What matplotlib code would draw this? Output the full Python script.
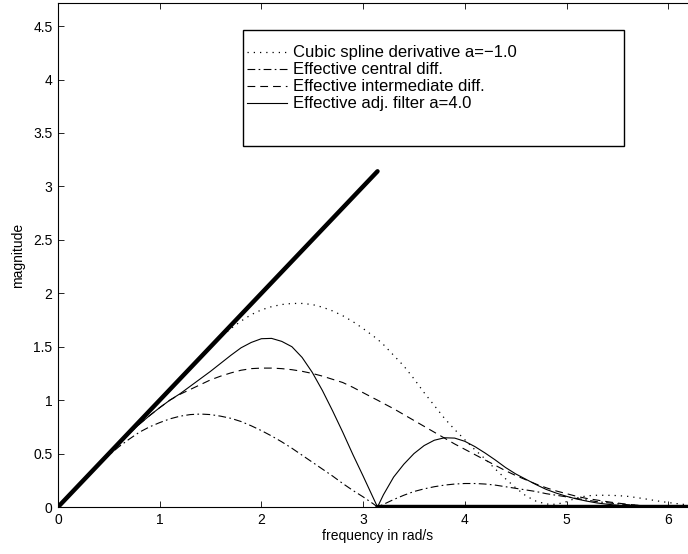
import numpy as np
import matplotlib
matplotlib.use("Agg")
import matplotlib.pyplot as plt
from matplotlib.patches import Rectangle

plt.rcParams["font.family"] = ["Liberation Sans", "DejaVu Sans"]
plt.rcParams["font.size"] = 10

PI = np.pi
# sample frequencies (rad/s)
freq = [0.0, 0.1, 0.2, 0.3, 0.4, 0.5, 0.6, 0.7, 0.8, 0.9,
        1.0, 1.1, 1.2, 1.3, 1.4, 1.5, 1.6, 1.7, 1.8, 1.9,
        2.0, 2.1, 2.2, 2.3, 2.4, 2.5, 2.6, 2.7, 2.8, 2.9,
        3.0, 3.1, PI, 3.2, 3.3, 3.4, 3.5, 3.6, 3.7, 3.8, 3.9,
        4.0, 4.1, 4.2, 4.3, 4.4, 4.5, 4.6, 4.7, 4.8, 4.9,
        5.0, 5.1, 5.2, 5.3, 5.4, 5.5, 5.6, 5.7, 5.8, 5.9,
        6.0, 6.1, 6.2, 2 * PI]

spline_deriv = [0.0, 0.1, 0.2, 0.3, 0.4, 0.5, 0.6, 0.7, 0.8, 0.9,
                1.0, 1.1, 1.2, 1.3, 1.4, 1.5, 1.59, 1.67, 1.74, 1.80,
                1.845, 1.875, 1.895, 1.905, 1.905, 1.895, 1.87, 1.835, 1.79, 1.735,
                1.67, 1.60, 1.57, 1.52, 1.42, 1.32, 1.20, 1.07, 0.95, 0.83, 0.725,
                0.63, 0.535, 0.45, 0.355, 0.265, 0.18, 0.105, 0.055, 0.028, 0.025,
                0.05, 0.085, 0.105, 0.11, 0.11, 0.107, 0.10, 0.087, 0.072, 0.056,
                0.042, 0.03, 0.02, 0.015]
central_diff = [0.0, 0.1, 0.2, 0.3, 0.395, 0.485, 0.565, 0.635, 0.70, 0.75,
                0.79, 0.825, 0.85, 0.865, 0.87, 0.865, 0.85, 0.83, 0.80, 0.76,
                0.715, 0.665, 0.61, 0.55, 0.485, 0.42, 0.355, 0.29, 0.22, 0.155,
                0.095, 0.03, 0.0, 0.025, 0.07, 0.11, 0.145, 0.17, 0.19, 0.205, 0.215,
                0.22, 0.22, 0.215, 0.205, 0.19, 0.175, 0.16, 0.145, 0.125, 0.11,
                0.095, 0.08, 0.065, 0.05, 0.04, 0.03, 0.022, 0.015, 0.01, 0.006,
                0.003, 0.001, 0.0, 0.0]
intermediate_diff = [0.0, 0.1, 0.2, 0.3, 0.4, 0.5, 0.595, 0.69, 0.775, 0.855,
                     0.93, 1.0, 1.055, 1.10, 1.145, 1.19, 1.225, 1.255, 1.28, 1.295,
                     1.30, 1.30, 1.295, 1.285, 1.27, 1.25, 1.225, 1.195, 1.165, 1.12,
                     1.07, 1.02, 1.0, 0.97, 0.92, 0.865, 0.81, 0.755, 0.70, 0.645, 0.59,
                     0.54, 0.49, 0.44, 0.39, 0.34, 0.295, 0.255, 0.215, 0.18, 0.15,
                     0.125, 0.10, 0.08, 0.065, 0.05, 0.037, 0.026, 0.017, 0.01, 0.006,
                     0.003, 0.001, 0.0, 0.0]
adj_filter = [0.0, 0.1, 0.2, 0.3, 0.4, 0.5, 0.595, 0.69, 0.775, 0.855,
              0.93, 1.0, 1.06, 1.13, 1.20, 1.27, 1.345, 1.42, 1.49, 1.54,
              1.575, 1.578, 1.55, 1.50, 1.40, 1.26, 1.09, 0.90, 0.70, 0.49,
              0.29, 0.085, 0.0, 0.115, 0.28, 0.40, 0.50, 0.575, 0.625, 0.648, 0.645,
              0.615, 0.565, 0.505, 0.44, 0.37, 0.31, 0.26, 0.21, 0.165, 0.13,
              0.10, 0.075, 0.055, 0.038, 0.026, 0.017, 0.011, 0.007, 0.004, 0.002,
              0.001, 0.0, 0.0, 0.0]

# ideal derivative, band-limited to pi (two pieces, no vertical jump)
ideal_freq = [0.0, PI, np.nan, PI, 2 * PI]
ideal_mag = [0.0, PI, np.nan, 0.0, 0.0]

labels = ["Cubic spline derivative a=\u22121.0", "Effective central diff.",
          "Effective intermediate diff.", "Effective adj. filter a=4.0"]

fig = plt.figure(figsize=(6.88, 5.54), dpi=100)
ax = fig.add_axes([0.0843, 0.0848, 0.9288, 0.909])

h1, = ax.plot(freq, spline_deriv, color="k", lw=0.9, ls=(0, (1, 4)))
h2, = ax.plot(freq, central_diff, color="k", lw=0.8, ls=(0, (7, 3, 1.5, 3)))
h3, = ax.plot(freq, intermediate_diff, color="k", lw=0.8, ls=(0, (7, 4.5)))
h4, = ax.plot(freq, adj_filter, color="k", lw=0.8)
ax.plot(ideal_freq, ideal_mag, color="k", lw=3.2, solid_capstyle="round")

ax.set_xlim(0, 2 * PI)
ax.set_ylim(0, 1.5 * PI)
ax.set_xticks(range(7))
ax.set_yticks(np.arange(0, 4.6, 0.5))
ax.set_yticklabels(["0", "0.5", "1", "1.5", "2", "2.5", "3", "3.5", "4", "4.5"])
ax.tick_params(direction="in", length=4, width=0.6, top=True, right=True, pad=4)
for s in ax.spines.values():
    s.set_linewidth(0.8)
ax.set_xlabel("frequency in rad/s", labelpad=2)
ax.set_ylabel("magnitude", labelpad=6)

fig.patches.append(Rectangle((243 / 688, 1 - 146 / 554), 381 / 688, 116 / 554,
                             transform=fig.transFigure, fill=True, facecolor="white",
                             edgecolor="k", lw=1.0, zorder=3))
fig.legend([h1, h2, h3, h4], labels, loc="upper left", fontsize=12,
           bbox_to_anchor=(244 / 688, 1 - 42 / 554), frameon=False,
           handlelength=2.4, handletextpad=0.35, labelspacing=0.12, borderpad=0.2,
           borderaxespad=0)

fig.savefig("out.png", dpi=100)
